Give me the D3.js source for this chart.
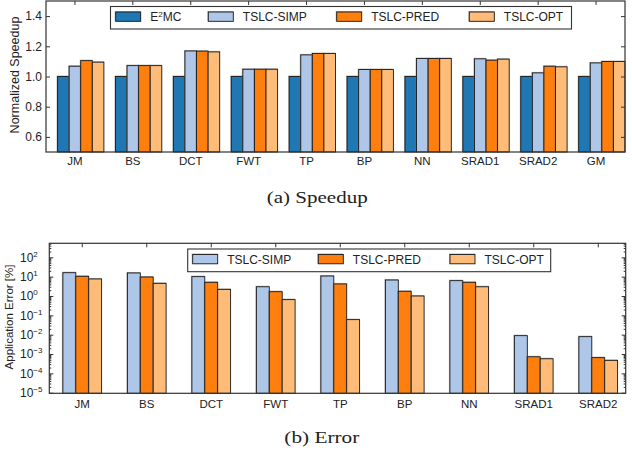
<!DOCTYPE html>
<html>
<head>
<meta charset="utf-8">
<script src="https://cdn.jsdelivr.net/npm/d3@7"></script>
<style>
  body { margin: 0; background: #fff; }
  svg { display: block; }
</style>
</head>
<body>
<svg id="fig" width="632" height="455"></svg>
<script>
//////////
// Data //
//////////
const categories = ["JM", "BS", "DCT", "FWT", "TP", "BP", "NN", "SRAD1", "SRAD2", "GM"];
const speedupSeries = ["E2MC", "TSLC-SIMP", "TSLC-PRED", "TSLC-OPT"];
const speedupE2MC = [1, 1, 1, 1, 1, 1, 1, 1, 1, 1];
const speedupSimp = [1.068, 1.072, 1.169, 1.048, 1.143, 1.046, 1.119, 1.117, 1.024, 1.09];
const speedupPred = [1.105, 1.072, 1.168, 1.048, 1.152, 1.046, 1.119, 1.108, 1.068, 1.099];
const speedupOpt = [1.095, 1.072, 1.163, 1.048, 1.152, 1.046, 1.119, 1.115, 1.064, 1.099];
const speedupTicks = [0.6, 0.8, 1.0, 1.2, 1.4];

const errorCategories = ["JM", "BS", "DCT", "FWT", "TP", "BP", "NN", "SRAD1", "SRAD2"];
const errorSeries = ["TSLC-SIMP", "TSLC-PRED", "TSLC-OPT"];
const errorSimp = [16, 15.5, 10, 3.0, 10.8, 6.7, 6.2, 0.0089, 0.0079];
const errorPred = [10.4, 9.6, 5.1, 1.67, 4.2, 1.75, 5.1, 0.00072, 0.00065];
const errorOpt = [7.6, 4.5, 2.2, 0.65, 0.06, 1.0, 3.0, 0.00057, 0.00047];
const errorExponents = [-5, -4, -3, -2, -1, 0, 1, 2];

const colors = {
  "E2MC": "#1f77b4",
  "TSLC-SIMP": "#aec7e8",
  "TSLC-PRED": "#ff7f0e",
  "TSLC-OPT": "#ffbb78",
};

const sans = "'Liberation Sans', Arial, sans-serif";
const serif = "'Liberation Serif', 'Times New Roman', serif";
const frameColor = "#333";

const svg = d3.select("#fig").style("font-family", sans);

// bar with a soft grey shadow, like the original figure
function drawBar(g, x, y, w, h, fill) {
  g.append("rect")
    .attr("x", x - 1).attr("y", y - 1)
    .attr("width", w + 1).attr("height", h + 1)
    .attr("fill", "#777").attr("opacity", 0.55);
  g.append("rect")
    .attr("x", x).attr("y", y)
    .attr("width", w).attr("height", h)
    .attr("fill", fill)
    .attr("stroke", "#1a1a1a").attr("stroke-width", 0.9);
}

function legend(g, box, items) {
  g.append("rect")
    .attr("x", box.x).attr("y", box.y)
    .attr("width", box.w).attr("height", box.h)
    .attr("fill", "#fff").attr("stroke", frameColor).attr("stroke-width", 1.1);
  items.forEach((it) => {
    drawBar(g, it.x, box.y + 5.5, 25, 9.3, colors[it.name]);
    const t = g.append("text")
      .attr("x", it.x + 34.5).attr("y", box.y + 14.6)
      .attr("font-size", "12px").attr("fill", "#222");
    if (it.name === "E2MC") {
      t.append("tspan").text("E");
      t.append("tspan").attr("font-size", "8px").attr("dy", "-4.5").text("2");
      t.append("tspan").attr("dy", "4.5").text("MC");
    } else {
      t.text(it.name);
    }
  });
}

///////////////////////
// (a) Speedup chart //
///////////////////////
const top1 = { left: 46, right: 625, top: 1, bottom: 152 };

const x1 = d3.scaleBand().domain(categories).range([top1.left, top1.right]);
const w1 = x1.bandwidth() * 0.2;
const inner1 = d3.scaleBand().domain(speedupSeries).range([-1.5 * w1, 2.5 * w1]);
const y1 = d3.scaleLinear().domain([0.5, 1.5]).range([top1.bottom, top1.top]);

const speedupValues = {
  "E2MC": speedupE2MC,
  "TSLC-SIMP": speedupSimp,
  "TSLC-PRED": speedupPred,
  "TSLC-OPT": speedupOpt,
};

const g1 = svg.append("g");

// bottom axis first, its inward ticks sit behind the bars
g1.append("g")
  .attr("transform", `translate(0,${top1.bottom})`)
  .call(d3.axisBottom(x1).tickSize(-4).tickPadding(5).tickSizeOuter(0))
  .call((a) => a.select(".domain").remove())
  .call((a) => a.selectAll("line").attr("stroke", frameColor))
  .call((a) => a.selectAll("text").attr("font-size", "11.5px").attr("fill", "#222").attr("font-family", sans));

const bars1 = g1.append("g");
categories.forEach((c, i) => {
  speedupSeries.forEach((s) => {
    const v = speedupValues[s][i];
    const bx = x1(c) + x1.bandwidth() / 2 + inner1(s);
    drawBar(bars1, bx, y1(v), inner1.bandwidth(), y1(0.5) - y1(v), colors[s]);
  });
});

g1.append("g")
  .attr("transform", `translate(${top1.left},0)`)
  .call(d3.axisLeft(y1).tickValues(speedupTicks).tickFormat(d3.format(".1f")).tickSize(-4).tickPadding(4).tickSizeOuter(0))
  .call((a) => a.select(".domain").remove())
  .call((a) => a.selectAll("line").attr("stroke", frameColor))
  .call((a) => a.selectAll("text").attr("font-size", "12px").attr("fill", "#222").attr("font-family", sans));

g1.append("g")
  .attr("transform", `translate(${top1.right},0)`)
  .call(d3.axisRight(y1).tickValues(speedupTicks).tickFormat("").tickSize(-4).tickSizeOuter(0))
  .call((a) => a.select(".domain").remove())
  .call((a) => a.selectAll("line").attr("stroke", frameColor));

g1.append("g")
  .attr("transform", `translate(0,${top1.top})`)
  .call(d3.axisTop(x1).tickFormat("").tickSize(-4).tickSizeOuter(0))
  .call((a) => a.select(".domain").remove())
  .call((a) => a.selectAll("line").attr("stroke", frameColor));

g1.append("rect")
  .attr("x", top1.left).attr("y", top1.top)
  .attr("width", top1.right - top1.left).attr("height", top1.bottom - top1.top)
  .attr("fill", "none").attr("stroke", frameColor).attr("stroke-width", 1.2);

g1.append("text")
  .attr("transform", "rotate(-90)")
  .attr("x", -75).attr("y", 19)
  .attr("text-anchor", "middle")
  .attr("font-size", "12.5px").attr("fill", "#222")
  .text("Normalized Speedup");

legend(g1, { x: 110.5, y: 6.5, w: 461, h: 22.5 }, [
  { name: "E2MC", x: 115.7 },
  { name: "TSLC-SIMP", x: 208.3 },
  { name: "TSLC-PRED", x: 336.7 },
  { name: "TSLC-OPT", x: 469.3 },
]);

svg.append("text")
  .attr("x", 266.7).attr("y", 203.3)
  .attr("font-family", serif).attr("font-size", "16.5px").attr("fill", "#222")
  .attr("textLength", 101).attr("lengthAdjust", "spacingAndGlyphs")
  .text("(a) Speedup");

/////////////////////
// (b) Error chart //
/////////////////////
const bot = { left: 49.3, right: 625.7, top: 243.3, bottom: 393.3 };

const x2 = d3.scaleBand().domain(errorCategories).range([50, 630.5]);
const w2 = x2.bandwidth() * 0.2;
const inner2 = d3.scaleBand().domain(errorSeries).range([-1.5 * w2, 1.5 * w2]);
const y2 = d3.scaleLog().domain([10 ** -5.03, 10 ** 2.724]).range([bot.bottom, bot.top]);

const errorValues = {
  "TSLC-SIMP": errorSimp,
  "TSLC-PRED": errorPred,
  "TSLC-OPT": errorOpt,
};

const g2 = svg.append("g");

g2.append("g")
  .attr("transform", `translate(0,${bot.bottom})`)
  .call(d3.axisBottom(x2).tickSize(-4).tickPadding(6.5).tickSizeOuter(0))
  .call((a) => a.select(".domain").remove())
  .call((a) => a.selectAll("line").attr("stroke", frameColor))
  .call((a) => a.selectAll("text").attr("font-size", "11.5px").attr("fill", "#222").attr("font-family", sans));

const bars2 = g2.append("g");
errorCategories.forEach((c, i) => {
  errorSeries.forEach((s) => {
    const v = errorValues[s][i];
    const bx = x2(c) + x2.bandwidth() / 2 + inner2(s);
    drawBar(bars2, bx, y2(v), inner2.bandwidth(), bot.bottom - y2(v), colors[s]);
  });
});

const majorTicks = errorExponents.map((e) => 10 ** e);
const minorTicks = [];
errorExponents.forEach((e) => {
  for (let m = 2; m <= 9; m++) {
    const v = m * 10 ** e;
    if (y2(v) >= bot.top) minorTicks.push(v);
  }
});

g2.append("g")
  .attr("transform", `translate(${bot.left},0)`)
  .call(d3.axisLeft(y2).tickValues(majorTicks).tickSize(-4).tickPadding(4).tickSizeOuter(0).tickFormat(""))
  .call((a) => a.select(".domain").remove())
  .call((a) => a.selectAll("line").attr("stroke", frameColor))
  .call((a) => a.selectAll(".tick text").each(function (d) {
    const t = d3.select(this)
      .attr("text-anchor", "start")
      .attr("x", 20 - bot.left)
      .attr("font-size", "12px").attr("fill", "#222").attr("font-family", sans);
    t.append("tspan").text("10");
    t.append("tspan")
      .attr("font-size", "8px").attr("dy", "-5")
      .text(String(Math.round(Math.log10(d))).replace("-", "\u2212"));
  }));

g2.append("g")
  .attr("transform", `translate(${bot.left},0)`)
  .call(d3.axisLeft(y2).tickValues(minorTicks).tickSize(-2).tickFormat("").tickSizeOuter(0))
  .call((a) => a.select(".domain").remove())
  .call((a) => a.selectAll("line").attr("stroke", frameColor));

g2.append("g")
  .attr("transform", `translate(${bot.right},0)`)
  .call(d3.axisRight(y2).tickValues(majorTicks).tickSize(-4).tickFormat("").tickSizeOuter(0))
  .call((a) => a.select(".domain").remove())
  .call((a) => a.selectAll("line").attr("stroke", frameColor));

g2.append("g")
  .attr("transform", `translate(${bot.right},0)`)
  .call(d3.axisRight(y2).tickValues(minorTicks).tickSize(-2).tickFormat("").tickSizeOuter(0))
  .call((a) => a.select(".domain").remove())
  .call((a) => a.selectAll("line").attr("stroke", frameColor));

g2.append("g")
  .attr("transform", `translate(0,${bot.top})`)
  .call(d3.axisTop(x2).tickFormat("").tickSize(-4).tickSizeOuter(0))
  .call((a) => a.select(".domain").remove())
  .call((a) => a.selectAll("line").attr("stroke", frameColor));

g2.append("rect")
  .attr("x", bot.left).attr("y", bot.top)
  .attr("width", bot.right - bot.left).attr("height", bot.bottom - bot.top)
  .attr("fill", "none").attr("stroke", frameColor).attr("stroke-width", 1.2);

g2.append("text")
  .attr("transform", "rotate(-90)")
  .attr("x", -317).attr("y", 13)
  .attr("text-anchor", "middle")
  .attr("font-size", "11.5px").attr("fill", "#222")
  .text("Application Error [%]");

legend(g2, { x: 187.7, y: 249, w: 363, h: 22.7 }, [
  { name: "TSLC-SIMP", x: 192.7 },
  { name: "TSLC-PRED", x: 318.3 },
  { name: "TSLC-OPT", x: 450 },
]);

svg.append("text")
  .attr("x", 284.3).attr("y", 443.3)
  .attr("font-family", serif).attr("font-size", "16.5px").attr("fill", "#222")
  .attr("textLength", 75).attr("lengthAdjust", "spacingAndGlyphs")
  .text("(b) Error");
</script>
</body>
</html>
